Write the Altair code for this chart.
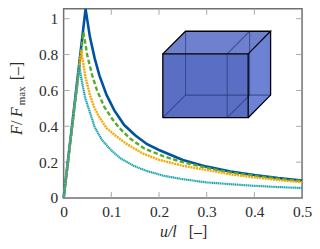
import altair as alt
import pandas as pd

# --- curves ---
blue_u = [0, .046, .055, .065, .075, .09, .106, .127, .15, .175, .2, .25, .3, .35, .4, .45, .5]
blue_f = [0, 1.055, .90, .78, .684, .575, .49, .407, .35, .30, .268, .212, .175, .148, .128, .111, .097]
green_u = [0, .0417, .05, .06, .07, .085, .102, .117, .14, .17, .21, .25, .3, .35, .4, .45, .5]
green_f = [0, .924, .79, .684, .60, .51, .44, .39, .33, .275, .232, .20, .168, .142, .124, .108, .094]
orange_u = [0, .037, .045, .055, .065, .075, .09, .11, .133, .165, .2, .25, .3, .35, .4, .45, .5]
orange_f = [0, .823, .684, .575, .50, .45, .39, .345, .30, .25, .213, .18, .156, .132, .115, .10, .088]
teal_u = [0, .033, .037, .045, .056, .065, .08, .1, .12, .148, .175, .21, .25, .3, .35, .4, .45, .5]
teal_f = [0, .74, .667, .56, .47, .396, .325, .265, .22, .178, .15, .124, .105, .087, .077, .068, .061, .056]

x_ticks = [0, .1, .2, .3, .4, .5]
y_ticks = [0, .2, .4, .6, .8, 1]

# --- cube corners in data units ---
fl, fr, bl, br = .208, .387, .2556, .434   # front left/right, back left/right
fb, ft, bb, bt = .448, .804, .574, .93     # front bottom/top, back bottom/top
il, ir = .343, .39                         # inner plane, front and back x

faces = [
    ("back", [bl, br], [bb, bb], [bt, bt], "#2a44b8", .43),
    ("left", [fl, bl], [fb, bb], [ft, bt], "#2a44b8", .43),
    ("bottom", [fl, bl, fr, br], [fb, fb, fb, bb], [fb, bb, bb, bb], "#2a44b8", .43),
    ("top", [fl, bl, fr, br], [ft, ft, ft, bt], [ft, bt, bt, bt], "#2a44b8", .43),
    ("right", [fr, br], [fb, bb], [ft, bt], "#2a48c8", .43),
    ("front", [fl, fr], [fb, fb], [ft, ft], "#2a44b0", .6),
]
solid_edges = [
    ([fl, fr, fr, fl, fl], [fb, fb, ft, ft, fb]),
    ([fl, bl, br, fr], [ft, bt, bt, ft]),
    ([br, br, fr], [bt, bb, fb]),
]
faint_edges = [
    ([bl, bl], [bt, bb]),
    ([fl, bl, br], [fb, bb, bb]),
    ([il, il], [fb, ft]),
    ([ir, ir], [bb, bt]),
    ([il, ir], [ft, bt]),
    ([il, ir], [fb, bb]),
]

W, H = 240, 190.5
x_scale = alt.Scale(domain=[0, .5], nice=False, zero=False)
y_scale = alt.Scale(domain=[0, 190.5 / 180.5], nice=False, zero=False)
font = "'Liberation Serif', 'Times New Roman', Times, serif"
ink = "#2b2b2b"
label_size = 15.5
x_axis = alt.Axis(values=x_ticks, format="~g", tickSize=0, domain=False, grid=False, title=None,
                  labelFont=font, labelFontSize=label_size, labelColor=ink, labelPadding=7, labelFlush=False)
y_axis = alt.Axis(values=y_ticks, format="~g", tickSize=0, domain=False, grid=False, title=None,
                  labelFont=font, labelFontSize=label_size, labelColor=ink, labelPadding=6)
X = alt.X("u:Q", scale=x_scale, axis=x_axis)
Y = alt.Y("f:Q", scale=y_scale, axis=y_axis)


def curve(us, fs, color, width, dash=None):
    df = pd.DataFrame({"u": us, "f": fs, "o": range(len(us))})
    kw = {"strokeDash": dash} if dash else {}
    return alt.Chart(df).mark_line(color=color, strokeWidth=width, strokeJoin="miter", **kw).encode(
        x=X, y=Y, order="o:Q")


def edge(us, fs, color, width, opacity=1):
    df = pd.DataFrame({"u": us, "f": fs, "o": range(len(us))})
    return alt.Chart(df).mark_line(color=color, strokeWidth=width, opacity=opacity).encode(
        x=X, y=Y, order="o:Q")


layers = []
axes_df = pd.DataFrame({"u": [0, .5], "f": [0, 1]})
# inward ticks
xt = pd.DataFrame({"u": x_ticks[1:-1]})
yt = pd.DataFrame({"f": y_ticks[1:]})
tick_color, tick_w, tick_len = "#a8a8a8", 1, 6
layers += [
    alt.Chart(xt).mark_rule(color=tick_color, strokeWidth=tick_w).encode(
        x=X, y=alt.value(H), y2=alt.value(H - tick_len)),
    alt.Chart(xt).mark_rule(color=tick_color, strokeWidth=tick_w).encode(
        x=X, y=alt.value(0), y2=alt.value(tick_len)),
    alt.Chart(yt).mark_rule(color=tick_color, strokeWidth=tick_w).encode(
        y=Y, x=alt.value(0), x2=alt.value(tick_len)),
    alt.Chart(yt).mark_rule(color=tick_color, strokeWidth=tick_w).encode(
        y=Y, x=alt.value(W), x2=alt.value(W - tick_len)),
]
# curves
layers += [
    curve(blue_u, blue_f, "#00549f", 2.6),
    curve(green_u, green_f, "#57ab27", 2.4, [4.5, 2.5]),
    curve(orange_u, orange_f, "#f6a800", 2.4, [2, .8]),
    curve(teal_u, teal_f, "#18a5ae", 2.2, [1.4, .5]),
]
# cube
for name, us, lo, hi, col, op in faces:
    df = pd.DataFrame({"u": us, "f": lo, "hi": hi})
    layers.append(alt.Chart(df).mark_area(color=col, opacity=op).encode(x=X, y=Y, y2="hi:Q"))
for us, fs in faint_edges:
    layers.append(edge(us, fs, "#1b2a66", 1.1, .55))
for us, fs in solid_edges:
    layers.append(edge(us, fs, "#000000", 1.3))

# rich-text axis titles
title_x = [("u/l", True, 16, 97, 230), ("[–]", False, 16, 126, 230)]
title_y = [("F", True, 16, -42, 127), ("/", False, 16, -42, 117), ("F", True, 16, -42, 109),
           ("max", False, 11, -38.5, 97), ("[–]", False, 16, -42, 72)]
for txt, ital, size, px, py in title_x:
    layers.append(alt.Chart(axes_df.head(1)).mark_text(
        text=txt, font=font, fontSize=size, fontStyle="italic" if ital else "normal",
        color=ink, align="left", baseline="alphabetic").encode(x=alt.value(px), y=alt.value(py)))
for txt, ital, size, px, py in title_y:
    layers.append(alt.Chart(axes_df.head(1)).mark_text(
        text=txt, font=font, fontSize=size, fontStyle="italic" if ital else "normal", angle=270,
        color=ink, align="left", baseline="alphabetic").encode(x=alt.value(px), y=alt.value(py)))

chart = alt.layer(*layers).properties(
    width=W, height=H,
    autosize=alt.AutoSizeParams(type="none"),
    padding={"left": 56, "top": 0, "right": 10, "bottom": 42},
).configure(font=font).configure_view(stroke="#707070", strokeWidth=1.5).configure_axis(
    labelFont=font, labelFontSize=label_size, labelColor=ink)

chart.save("out.html", embed_options={"renderer": "svg", "actions": False})
